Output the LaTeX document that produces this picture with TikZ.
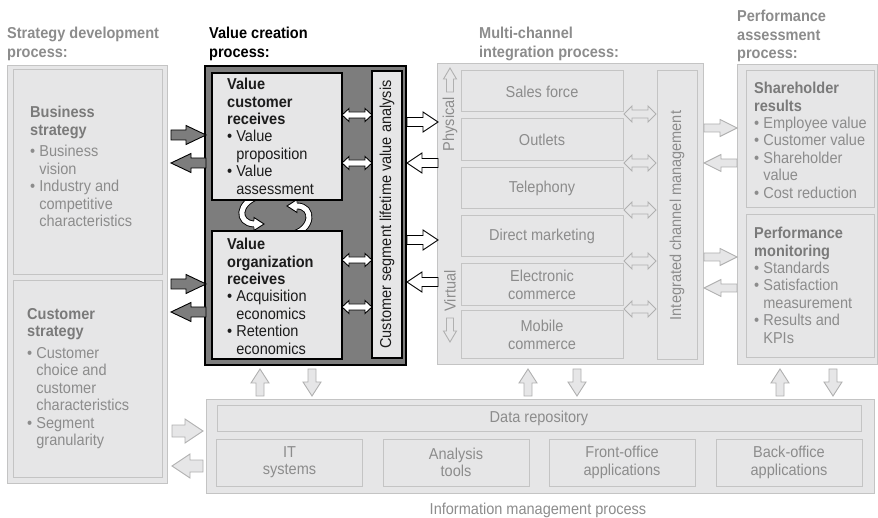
\documentclass[tikz,border=0pt]{standalone}
\usepackage{fontspec}
\setmainfont{Liberation Sans}[FakeStretch=0.92]

\definecolor{boxfill}{RGB}{230,230,231}
\definecolor{boxline}{RGB}{196,196,196}
\definecolor{arrline}{RGB}{176,176,176}
\definecolor{greytext}{RGB}{140,140,140}
\definecolor{greytitle}{RGB}{122,122,122}
\definecolor{darkfill}{RGB}{125,125,125}
\definecolor{inktext}{RGB}{28,28,28}

\newcommand{\fs}{\fontsize{15.8}{17.4}\selectfont}
\newcommand{\itm}{\textbullet\ }
\newcommand{\ind}{\hphantom{\textbullet\ }}

\tikzset{
  txt/.style={inner sep=0pt, font=\fs},
  blk/.style={txt, align=left, anchor=north west},
  head/.style={blk, font=\fontsize{15.8}{18.5}\selectfont\bfseries},
  lbox/.style={draw=boxline, fill=boxfill, line width=1pt},
  kbox/.style={draw=black, fill=boxfill, line width=1.1pt},
  chan/.style={lbox, txt, text=greytext, align=center, minimum width=162pt},
  tool/.style={lbox, txt, text=greytext, align=center, minimum width=146pt, minimum height=47pt},
  % block arrows: length/head length/head width/shaft width, tip at the origin
  pics/barrow/.style args={#1/#2/#3/#4}{code={
    \path[pic actions] (0,0) -- (-#2,-#3/2) -- (-#2,-#4/2) -- (-#1,-#4/2)
      -- (-#1,#4/2) -- (-#2,#4/2) -- (-#2,#3/2) -- cycle;
  }},
  pics/dbarrow/.style args={#1/#2/#3/#4}{code={
    \path[pic actions] (#1/2,0) -- (#1/2-#2,-#3/2) -- (#1/2-#2,-#4/2) -- (-#1/2+#2,-#4/2)
      -- (-#1/2+#2,-#3/2) -- (-#1/2,0) -- (-#1/2+#2,#3/2) -- (-#1/2+#2,#4/2)
      -- (#1/2-#2,#4/2) -- (#1/2-#2,#3/2) -- cycle;
  }},
  dkarrow/.style={draw=black, fill=darkfill, line width=0.9pt},
  wtarrow/.style={draw=black, fill=white, line width=0.9pt},
  ltarrow/.style={draw=arrline, fill=boxfill, line width=0.9pt}
}

\begin{document}
\begin{tikzpicture}[x=1pt, y=-1pt]
\useasboundingbox (0,0) rectangle (878,518);

% Strategy development process
\node[head, text=greytext] (hsdp) at (7,27) {Strategy development\\process:};
\draw[lbox] (7,66) rectangle (167,483);
\draw[lbox] (13,70) rectangle (162,275);
\draw[lbox] (13,281) rectangle (162,477);
\node[blk, text=greytext] (bstr) at (30,106) {\textcolor{greytitle}{\textbf{Business}}\\
  \textcolor{greytitle}{\textbf{strategy}}\\[4.5pt]
  \itm Business\\\ind vision\\\itm Industry and\\\ind competitive\\\ind characteristics};
\node[blk, text=greytext] (cstr) at (27,308) {\textcolor{greytitle}{\textbf{Customer}}\\
  \textcolor{greytitle}{\textbf{strategy}}\\[4.5pt]
  \itm Customer\\\ind choice and\\\ind customer\\\ind characteristics\\\itm Segment\\\ind granularity};

% Value creation process
\node[head, text=black] (hvcp) at (209,27) {Value creation\\process:};
\draw[draw=black, fill=darkfill, line width=1.2pt] (205,66) rectangle (406,365);
% circular arrows between the two inner boxes
\draw[double=white, double distance=5pt, line width=0.9pt] (259,196) .. controls (237,203) and (237,223) .. (254,224);
\fill[white] (254,217.5) -- (264,224) -- (254,230.5) -- cycle;
\draw[line width=0.9pt] (254,220.6) -- (254,217.5) -- (264,224) -- (254,230.5) -- (254,227.4);
\draw[double=white, double distance=5pt, line width=0.9pt] (290,235) .. controls (314,230) and (314,206) .. (297,206);
\fill[white] (297,199.5) -- (287,206) -- (297,212.5) -- cycle;
\draw[line width=0.9pt] (297,202.6) -- (297,199.5) -- (287,206) -- (297,212.5) -- (297,209.4);
\draw[kbox] (212,73) rectangle (342,200);
\draw[kbox] (212,231) rectangle (342,359);
\node[blk, text=inktext] (vcr) at (227,78) {\textbf{Value}\\\textbf{customer}\\\textbf{receives}\\
  \itm Value\\\ind proposition\\\itm Value\\\ind assessment};
\node[blk, text=inktext] (vor) at (227,238) {\textbf{Value}\\\textbf{organization}\\\textbf{receives}\\
  \itm Acquisition\\\ind economics\\\itm Retention\\\ind economics};
\node[kbox, txt, text=inktext, rotate=90, minimum width=287pt, minimum height=30pt] (cslv) at (387,214.5)
  {Customer segment lifetime value analysis};
\pic[wtarrow] (vd1) at (357,115) {dbarrow=30/7/13/6};
\pic[wtarrow] (vd2) at (357,163) {dbarrow=30/7/13/6};
\pic[wtarrow] (vd3) at (357,260) {dbarrow=30/7/13/6};
\pic[wtarrow] (vd4) at (357,307) {dbarrow=30/7/13/6};

% Multi-channel integration process
\node[head, text=greytext] (hmci) at (479,27) {Multi-channel\\integration process:};
\draw[lbox] (437,64) rectangle (703,365);
\node[chan, minimum height=41pt] (sales) at (542,91.5) {Sales force};
\node[chan, minimum height=42pt] (outl) at (542,140) {Outlets};
\node[chan, minimum height=41pt] (tele) at (542,188.5) {Telephony};
\node[chan, minimum height=41pt] (dmkt) at (542,236.5) {Direct marketing};
\node[chan, minimum height=42pt] (ecom) at (542,285) {Electronic\\commerce};
\node[chan, minimum height=48pt] (mcom) at (542,335) {Mobile\\commerce};
\node[lbox, txt, text=greytext, rotate=90, minimum width=289pt, minimum height=40pt] (icm) at (677,215.5)
  {Integrated channel management};
\node[txt, text=greytext, rotate=90] (phys) at (450,124) {Physical};
\node[txt, text=greytext, rotate=90] (virt) at (450,291) {Virtual};
\pic[ltarrow, rotate=90] (pup) at (450,68) {barrow=24/11/13/7};
\pic[ltarrow, rotate=-90] (vdn) at (450,342) {barrow=24/11/13/7};
\pic[ltarrow] (md1) at (640,114) {dbarrow=32/8/16/8};
\pic[ltarrow] (md2) at (640,163) {dbarrow=32/8/16/8};
\pic[ltarrow] (md3) at (640,210) {dbarrow=32/8/16/8};
\pic[ltarrow] (md4) at (640,261) {dbarrow=32/8/16/8};
\pic[ltarrow] (md5) at (640,309) {dbarrow=32/8/16/8};

% Performance assessment process
\node[head, text=greytext] (hpap) at (737,10) {Performance\\assessment\\process:};
\draw[lbox] (737,65) rectangle (877,365);
\draw[lbox] (746,71) rectangle (874,208);
\draw[lbox] (746,215) rectangle (874,358);
\node[blk, text=greytext] (shr) at (754,82) {\textcolor{greytitle}{\textbf{Shareholder}}\\
  \textcolor{greytitle}{\textbf{results}}\\
  \itm Employee value\\\itm Customer value\\\itm Shareholder\\\ind value\\\itm Cost reduction};
\node[blk, text=greytext] (pmon) at (754,227) {\textcolor{greytitle}{\textbf{Performance}}\\
  \textcolor{greytitle}{\textbf{monitoring}}\\
  \itm Standards\\\itm Satisfaction\\\ind measurement\\\itm Results and\\\ind KPIs};

% Information management process
\draw[lbox] (206,399) rectangle (874,493);
\node[lbox, txt, text=greytext, minimum width=644pt, minimum height=26pt] (drep) at (539,418) {Data repository};
\node[tool] (itsys) at (289.5,462.5) {IT\\systems};
\node[tool] (atool) at (456,462.5) {Analysis\\tools};
\node[tool] (fapp) at (622,462.5) {Front-office\\applications};
\node[tool] (bapp) at (789,462.5) {Back-office\\applications};
\node[txt, text=greytext] (imp) at (538,510) {Information management process};

% strategy <-> value creation
\pic[dkarrow] (sa1) at (206,135) {barrow=35/20/19/10};
\pic[dkarrow, rotate=180] (sa2) at (171,163) {barrow=35/20/19/10};
\pic[dkarrow] (sa3) at (206,284) {barrow=35/20/19/10};
\pic[dkarrow, rotate=180] (sa4) at (171,312) {barrow=35/20/19/10};

% value creation <-> multi-channel
\pic[wtarrow] (va1) at (438,122) {barrow=31/15/20/9};
\pic[wtarrow, rotate=180] (va2) at (407,163) {barrow=31/15/20/9};
\pic[wtarrow] (va3) at (438,240) {barrow=31/15/20/9};
\pic[wtarrow, rotate=180] (va4) at (407,282) {barrow=31/15/20/9};

% multi-channel <-> performance
\pic[ltarrow] (ma1) at (737,128) {barrow=33/17/17/8};
\pic[ltarrow, rotate=180] (ma2) at (704,163) {barrow=33/17/17/8};
\pic[ltarrow] (ma3) at (737,257) {barrow=33/17/17/8};
\pic[ltarrow, rotate=180] (ma4) at (704,288) {barrow=33/17/17/8};

% strategy <-> information management
\pic[ltarrow] (ia1) at (203,431) {barrow=31/18/24/12};
\pic[ltarrow, rotate=180] (ia2) at (172,466) {barrow=31/18/24/12};

% processes <-> information management
\pic[ltarrow, rotate=90] (up1) at (260,369) {barrow=27/14/18/8};
\pic[ltarrow, rotate=-90] (dn1) at (312,396) {barrow=27/14/18/8};
\pic[ltarrow, rotate=90] (up2) at (528,369) {barrow=27/14/18/8};
\pic[ltarrow, rotate=-90] (dn2) at (577,396) {barrow=27/14/18/8};
\pic[ltarrow, rotate=90] (up3) at (780,369) {barrow=27/14/18/8};
\pic[ltarrow, rotate=-90] (dn3) at (833,396) {barrow=27/14/18/8};
\end{tikzpicture}
\end{document}
